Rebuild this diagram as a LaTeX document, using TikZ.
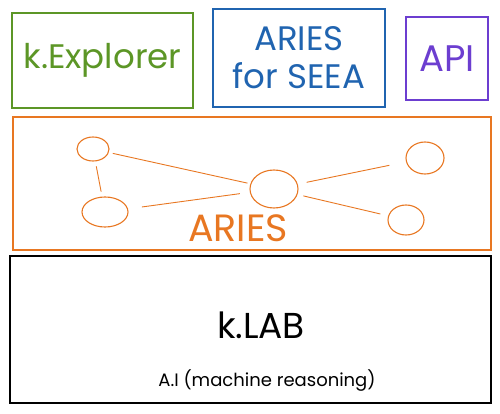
\documentclass[tikz,border=0pt]{standalone}
\usepackage{fontspec}
\setmainfont{Poppins}
\usepackage{tikz}
\usetikzlibrary{positioning,shapes.geometric}
\usepackage{xcolor}
\definecolor{exgreen}{RGB}{92,150,38}
\definecolor{seeablue}{RGB}{32,100,176}
\definecolor{apipurple}{RGB}{108,62,208}
\definecolor{ariesorange}{RGB}{232,119,34}

\begin{document}
\begin{tikzpicture}[
  x=1pt, y=-1pt,
  box/.style={rectangle, draw, line width=1.1pt, inner sep=0pt},
  knot/.style={ellipse, draw=ariesorange, line width=1.1pt, inner sep=0pt},
  link/.style={draw=ariesorange, line width=0.9pt},
  node distance=0.5cm
]
  \useasboundingbox (0,0) rectangle (500,414);

  \node[box, draw=exgreen, minimum width=181pt, minimum height=95pt, text=exgreen,
        font=\fontsize{34}{38}\selectfont] (explorer) at (102.5,60.5) {k.Explorer};
  \node[box, draw=seeablue, minimum width=172pt, minimum height=98pt, text=seeablue,
        align=center, font=\fontsize{34}{38}\selectfont] (seea) at (299,58) {ARIES\\for SEEA};
  \node[box, draw=apipurple, minimum width=82pt, minimum height=83pt, text=apipurple,
        font=\fontsize{37}{40}\selectfont] (api) at (447,58.5) {API};

  \node[box, draw=ariesorange, minimum width=478pt, minimum height=133pt] (aries) at (252,183.5) {};
  \node[text=ariesorange, font=\fontsize{38}{40}\selectfont] (arieslabel) at (238,228) {ARIES};

  \node[knot, minimum width=32pt, minimum height=24pt] (n1) at (93,149) {};
  \node[knot, minimum width=46pt, minimum height=30pt] (n2) at (105,212) {};
  \node[knot, minimum width=48pt, minimum height=38pt] (n3) at (274,189) {};
  \node[knot, minimum width=38pt, minimum height=32pt] (n4) at (425,158) {};
  \node[knot, minimum width=36pt, minimum height=30pt] (n5) at (406,220) {};

  \draw[link, shorten <=4pt, shorten >=3pt] (n1) -- (n3);
  \draw[link, shorten <=5pt, shorten >=5pt] (n1) -- (n2);
  \draw[link, shorten <=14pt, shorten >=10pt] (n2) -- (n3);
  \draw[link, shorten <=9pt, shorten >=17pt] (n3) -- (n4);
  \draw[link, shorten <=6pt, shorten >=8pt] (n3) -- (n5);

  \node[box, draw=black, minimum width=481pt, minimum height=147pt] (klab) at (250.5,329.5) {};
  \node[font=\fontsize{36}{40}\selectfont] (klabtitle) at (261,325) {k.LAB};
  \node[font=\fontsize{18}{20}\selectfont] (reasoning) at (267,381) {A.I (machine reasoning)};
\end{tikzpicture}
\end{document}
